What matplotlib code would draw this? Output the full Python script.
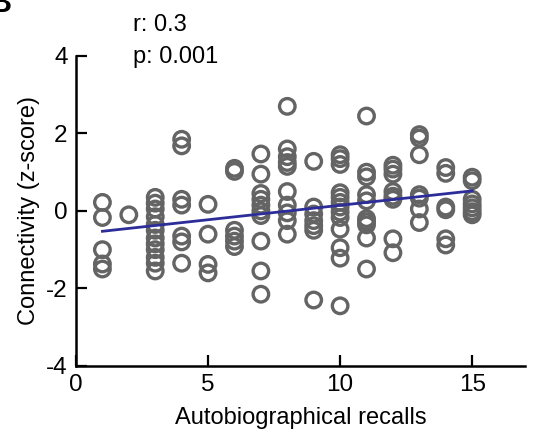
import numpy as np
import matplotlib
matplotlib.use("Agg")
import matplotlib.pyplot as plt

plt.rcParams['font.family'] = ['Liberation Sans', 'DejaVu Sans']

# recalls (x) -> connectivity values (y)
recalls = [1, 2, 3, 4, 5, 6, 7, 8, 9, 10, 11, 12, 13, 14, 15]
connectivity = [
    [0.22, -0.17, -1.0, -1.37, -1.5],
    [-0.1],
    [0.35, 0.2, 0.05, -0.15, -0.35, -0.5, -0.7, -0.85, -1.0, -1.2, -1.35, -1.55],
    [1.85, 1.68, 0.3, 0.15, -0.65, -0.8, -1.35],
    [0.17, -0.6, -1.38, -1.6],
    [1.1, 1.02, -0.5, -0.65, -0.78, -0.92],
    [1.47, 0.95, 0.45, 0.3, 0.15, 0.0, -0.12, -0.78, -1.55, -2.15],
    [2.7, 1.6, 1.4, 1.25, 1.15, 0.5, 0.15, -0.05, -0.25, -0.6],
    [1.28, 0.1, -0.08, -0.25, -0.38, -0.5, -2.3],
    [1.45, 1.35, 1.2, 0.47, 0.35, 0.22, 0.1, -0.03, -0.17, -0.47, -0.95, -1.22, -2.45],
    [2.45, 1.0, 0.88, 0.42, 0.26, -0.2, -0.28, -0.36, -0.7, -1.5],
    [1.18, 1.08, 0.95, 0.5, 0.38, 0.3, -0.72, -1.08],
    [1.97, 1.88, 1.45, 0.42, 0.33, 0.05, -0.3],
    [1.12, 0.97, 0.1, 0.03, -0.72, -0.88],
    [0.87, 0.78, 0.3, 0.18, 0.08, -0.02, -0.1],
]
r_text = "r: 0.3"
p_text = "p: 0.001"

x = np.concatenate([[r] * len(v) for r, v in zip(recalls, connectivity)])
y = np.concatenate(connectivity)

fig = plt.figure(figsize=(5.39, 4.34), dpi=100)
ax = fig.add_axes([0.141, 0.157, 0.833, 0.714])

ax.scatter(x, y, s=125, facecolors='none', edgecolors='#646464', linewidths=2.4, zorder=2)

# least squares fit line
slope, icpt = np.polyfit(x, y, 1)
xf = np.array([min(recalls), max(recalls)])
ax.plot(xf, slope * xf + icpt, color='#2d2d9a', lw=2.0, zorder=3)

ax.set_xlim(0, 17)
ax.set_ylim(-4, 4)
ax.set_xticks([0, 5, 10, 15])
ax.set_yticks([-4, -2, 0, 2, 4])
ax.set_yticklabels(['-4', '-2', '0', '2', '4'])
for s in ['top', 'right']:
    ax.spines[s].set_visible(False)
for s in ['left', 'bottom']:
    ax.spines[s].set_linewidth(1.8)
ax.tick_params(direction='in', length=8, width=1.6, labelsize=17.5, pad=6)
ax.set_xlabel("Autobiographical recalls", fontsize=17, labelpad=8)
ax.set_ylabel("Connectivity (z-score)", fontsize=17, labelpad=4)

fig.text(133 / 539, 1 - 31 / 434, r_text, fontsize=17, va='baseline')
fig.text(133 / 539, 1 - 63 / 434, p_text, fontsize=17, va='baseline')
# panel letter, mostly outside the crop
fig.text(12 / 539, 1.025, "B", fontsize=22, fontweight='bold', ha='right', va='top')

fig.savefig("out.png", dpi=100)
